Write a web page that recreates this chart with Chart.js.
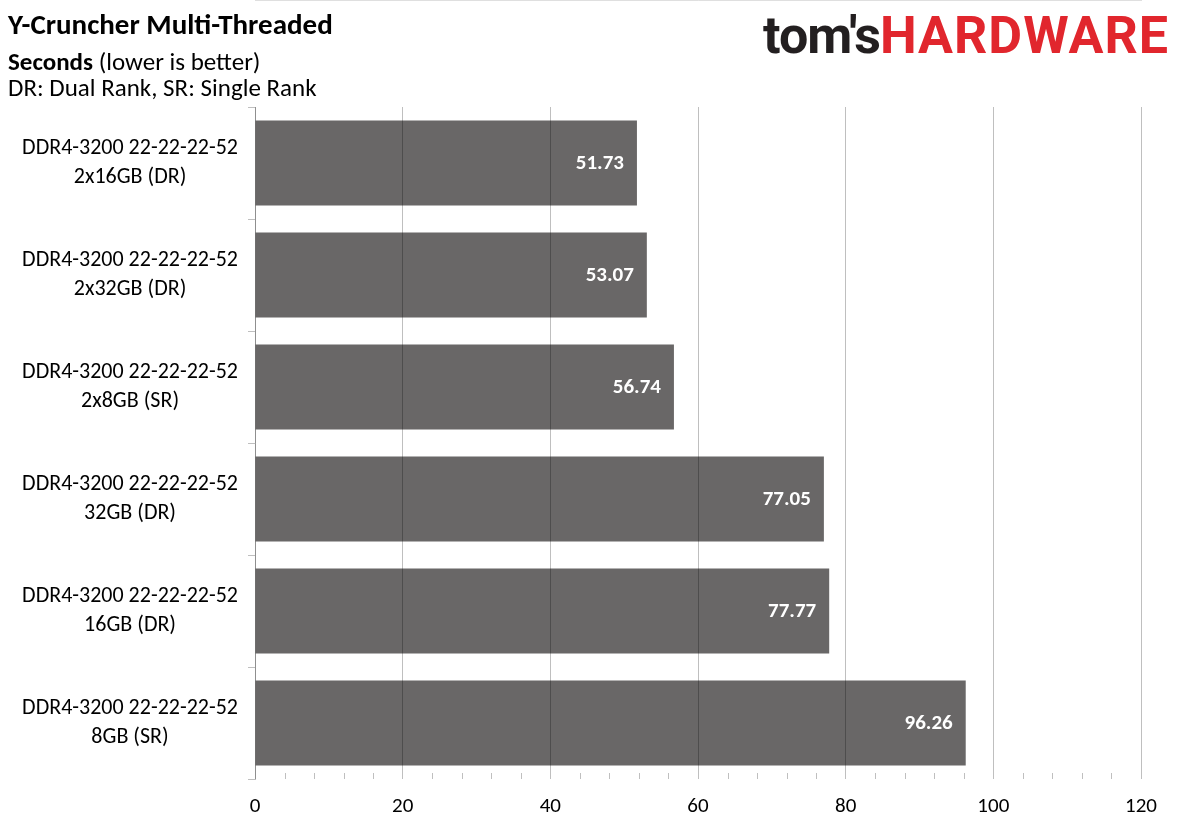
<!DOCTYPE html>
<html>
<head>
<meta charset="utf-8">
<script src="https://cdn.jsdelivr.net/npm/chart.js@4.4.1/dist/chart.umd.min.js"></script>
<style>
  html, body { margin: 0; padding: 0; background: #fff; }
  #wrap { position: relative; width: 1179px; height: 833px; font-family: Carlito, Lato, sans-serif; }
  #chartBox { position: absolute; left: 0; top: 0; width: 1179px; height: 833px; }
  .t1 { position: absolute; left: 8px; top: 7px; font-size: 29px; line-height: 34px; font-weight: bold; color: #000; white-space: nowrap; }
  .t2 { position: absolute; left: 8px; top: 47px; font-size: 25px; line-height: 30px; color: #000; white-space: nowrap; }
  .t3 { position: absolute; left: 8px; top: 73px; font-size: 25px; line-height: 30px; color: #000; white-space: nowrap; }
  .logo { position: absolute; left: 763px; top: 5px; font-family: Roboto, sans-serif; font-weight: bold; font-size: 52px; white-space: nowrap; letter-spacing: -1px; }
  .logo .a { color: #231f20; }
  .logo .b { color: #e1262d; letter-spacing: 1px; }
</style>
</head>
<body>
<div id="wrap">
  <div id="chartBox"><canvas id="c"></canvas></div>
  <div class="t1">Y-Cruncher Multi-Threaded</div>
  <div class="t2"><b>Seconds</b> (lower is better)</div>
  <div class="t3">DR: Dual Rank, SR: Single Rank</div>
  <div class="logo"><span class="a">tom's</span><span class="b">HARDWARE</span></div>
</div>
<script>
const categories = [
  ['DDR4-3200 22-22-22-52', '2x16GB (DR)'],
  ['DDR4-3200 22-22-22-52', '2x32GB (DR)'],
  ['DDR4-3200 22-22-22-52', '2x8GB (SR)'],
  ['DDR4-3200 22-22-22-52', '32GB (DR)'],
  ['DDR4-3200 22-22-22-52', '16GB (DR)'],
  ['DDR4-3200 22-22-22-52', '8GB (SR)'],
];
const seconds = [51.73, 53.07, 56.74, 77.05, 77.77, 96.26];
const axisMax = 120;
const majorStep = 20;
const minorStep = 4;

const FONT = 'Carlito, Lato, sans-serif';

// value labels inside the bar end, plus the small inward minor ticks on the x axis
const extras = {
  id: 'extras',
  afterDatasetsDraw(chart) {
    const ctx = chart.ctx;
    const meta = chart.getDatasetMeta(0);
    ctx.save();
    ctx.fillStyle = '#ffffff';
    ctx.font = 'bold 21px ' + FONT;
    ctx.textAlign = 'right';
    ctx.textBaseline = 'middle';
    meta.data.forEach((bar, i) => {
      ctx.fillText(seconds[i].toFixed(2), bar.x - 13, bar.y + 1);
    });
    ctx.restore();
  },
  afterDraw(chart) {
    const ctx = chart.ctx;
    const x = chart.scales.x;
    ctx.save();
    ctx.strokeStyle = '#bfbfbf';
    ctx.lineWidth = 1;
    x.ticks.forEach(t => {
      if (t.value % majorStep === 0) return;
      const px = Math.round(x.getPixelForValue(t.value)) + 0.5;
      ctx.beginPath();
      ctx.moveTo(px, x.top);
      ctx.lineTo(px, x.top - 6);
      ctx.stroke();
    });
    ctx.restore();
  }
};

new Chart(document.getElementById('c'), {
  type: 'bar',
  data: {
    labels: categories,
    datasets: [{
      data: seconds,
      backgroundColor: '#696767',
      categoryPercentage: 1,
      barPercentage: 0.76,
    }],
  },
  options: {
    indexAxis: 'y',
    responsive: true,
    maintainAspectRatio: false,
    animation: false,
    layout: { padding: { left: 0, top: 107, right: 38, bottom: 0 } },
    plugins: {
      legend: { display: false },
      tooltip: { enabled: false },
    },
    scales: {
      x: {
        min: 0,
        max: axisMax,
        afterFit: (s) => { s.height = 54; },
        ticks: {
          stepSize: minorStep,
          autoSkip: false,
          maxRotation: 0,
          minRotation: 0,
          padding: 15,
          color: '#000',
          font: { family: FONT, size: 21 },
          callback: (v) => (v % majorStep === 0 ? String(v) : ''),
        },
        grid: {
          z: 1,
          drawTicks: false,
          color: (c) => (c.tick && c.tick.value % majorStep === 0 ? 'rgba(0,0,0,0.25)' : 'rgba(0,0,0,0)'),
        },
        border: { display: true, color: '#bfbfbf' },
      },
      y: {
        afterFit: (s) => { s.width = 255; },
        ticks: {
          crossAlign: 'center',
          padding: 10,
          color: '#000',
          font: { family: FONT, size: 22, lineHeight: 1.33 },
        },
        grid: {
          offset: true,
          drawOnChartArea: false,
          drawTicks: true,
          tickLength: 7,
          color: '#bfbfbf',
        },
        border: { display: true, color: '#bfbfbf' },
      },
    },
  },
  plugins: [extras],
});
</script>
</body>
</html>
